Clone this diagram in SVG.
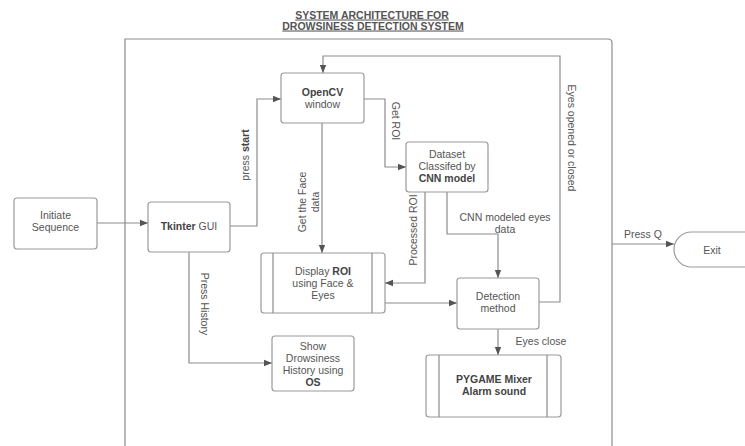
<svg xmlns="http://www.w3.org/2000/svg" width="745" height="446" viewBox="0 0 745 446">
<defs>
<style>
.box{fill:#fff;stroke:#9a9a9a;stroke-width:1.2}
.ln{fill:none;stroke:#8c8c8c;stroke-width:1.2}
.t{font-family:"Liberation Sans",Arial,sans-serif;font-size:10.5px;fill:#555;text-anchor:middle}
.b{font-weight:bold;fill:#444}
.title{font-family:"Liberation Sans",Arial,sans-serif;font-size:10.5px;font-weight:bold;fill:#555;text-anchor:middle;text-decoration:underline}
</style>
<marker id="ah" viewBox="0 0 10 10" refX="10" refY="5" markerWidth="8" markerHeight="8" markerUnits="userSpaceOnUse" orient="auto">
<path d="M0,1 L10,5 L0,9 Z" fill="#555"/>
</marker>
</defs>
<rect width="745" height="446" fill="#fff"/>

<g id="title">
<text class="title" x="372" y="18.5">SYSTEM ARCHITECTURE FOR</text>
<text class="title" x="373" y="29.5">DROWSINESS DETECTION SYSTEM</text>
</g>

<g id="container">
<path class="ln" d="M125,446 V39 H608 Q612,39 612,43 V446"/>
</g>

<g id="connectors">
<path class="ln" d="M97,223 H148" marker-end="url(#ah)"/>
<path class="ln" d="M230,226 H257 V99 H281" marker-end="url(#ah)"/>
<path class="ln" d="M539,302 H560 V56 H323 V73" marker-end="url(#ah)"/>
<path class="ln" d="M364,99 H385 V167 H406" marker-end="url(#ah)"/>
<path class="ln" d="M322,123 V253" marker-end="url(#ah)"/>
<path class="ln" d="M425,192 V283 H385" marker-end="url(#ah)"/>
<path class="ln" d="M447,192 V234 H498 V278" marker-end="url(#ah)"/>
<path class="ln" d="M385,303 H457" marker-end="url(#ah)"/>
<path class="ln" d="M498,329 V355" marker-end="url(#ah)"/>
<path class="ln" d="M189,252 V363 H272" marker-end="url(#ah)"/>
<path class="ln" d="M612,244 H674" marker-end="url(#ah)"/>

<text class="t" transform="translate(245,155) rotate(-90)" dy="0.35em">press <tspan class="b">start</tspan></text>
<text class="t" transform="translate(396,121) rotate(90)" dy="0.35em">Get ROI</text>
<text class="t" transform="translate(572,138) rotate(90)" dy="0.35em">Eyes opened or closed</text>
<text class="t" transform="translate(302,202) rotate(-90)" dy="0.35em">Get the Face</text>
<text class="t" transform="translate(315,202) rotate(-90)" dy="0.35em">data</text>
<text class="t" transform="translate(413,230) rotate(-90)" dy="0.35em">Processed ROI</text>
<text class="t" transform="translate(205,304) rotate(90)" dy="0.35em">Press History</text>
<text class="t" x="505" y="221">CNN modeled eyes</text>
<text class="t" x="505" y="233">data</text>
<text class="t" x="541" y="345">Eyes close</text>
<text class="t" x="643" y="238">Press Q</text>
</g>

<g id="initiate">
<rect class="box" x="14" y="198" width="83" height="51" rx="3"/>
<text class="t" x="55.5" y="219">Initiate</text>
<text class="t" x="55.5" y="231">Sequence</text>
</g>

<g id="tkinter">
<rect class="box" x="148" y="202" width="82" height="50" rx="3"/>
<text class="t" x="189" y="230"><tspan class="b">Tkinter</tspan> GUI</text>
</g>

<g id="opencv">
<rect class="box" x="281" y="73" width="83" height="50" rx="3"/>
<text class="t b" x="322.5" y="96">OpenCV</text>
<text class="t" x="322.5" y="108">window</text>
</g>

<g id="dataset">
<rect class="box" x="406" y="142" width="82" height="50" rx="3"/>
<text class="t" x="447" y="158">Dataset</text>
<text class="t" x="447" y="170">Classifed by</text>
<text class="t b" x="447" y="182">CNN model</text>
</g>

<g id="display">
<rect class="box" x="261" y="253" width="124" height="60" rx="3"/>
<path class="ln" d="M273,253 V313 M372,253 V313"/>
<text class="t" x="323" y="275">Display <tspan class="b">ROI</tspan></text>
<text class="t" x="323" y="287">using Face &amp;</text>
<text class="t" x="323" y="299">Eyes</text>
</g>

<g id="detection">
<rect class="box" x="457" y="278" width="82" height="51" rx="3"/>
<text class="t" x="498" y="300">Detection</text>
<text class="t" x="498" y="312">method</text>
</g>

<g id="pygame">
<rect class="box" x="426" y="355" width="135" height="62" rx="3"/>
<path class="ln" d="M439,355 V417 M547,355 V417"/>
<text class="t b" x="494" y="383">PYGAME Mixer</text>
<text class="t b" x="494" y="395">Alarm sound</text>
</g>

<g id="history">
<rect class="box" x="272" y="336" width="82" height="55" rx="3"/>
<text class="t" x="313" y="350">Show</text>
<text class="t" x="313" y="362">Drowsiness</text>
<text class="t" x="313" y="374">History using</text>
<text class="t b" x="313" y="386">OS</text>
</g>

<g id="exit">
<path class="box" d="M745,232 H691.5 A17.5,17.5 0 0 0 691.5,267 H745"/>
<text class="t" x="712" y="254">Exit</text>
</g>
</svg>
